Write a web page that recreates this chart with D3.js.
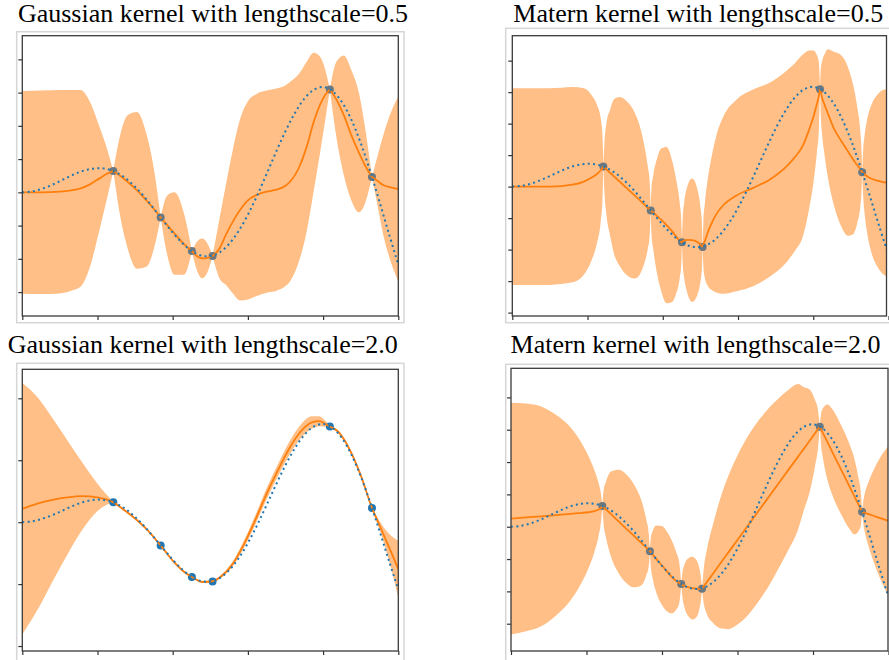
<!DOCTYPE html>
<html>
<head>
<meta charset="utf-8">
<script src="https://d3js.org/d3.v7.min.js"></script>
<style>
  body { margin: 0; background: #ffffff; }
  svg text { font-family: "Liberation Serif", "Times New Roman", serif; }
</style>
</head>
<body>
<script>
var w = 889;
var h = 660;

// training points (same in every panel)
var pointX = [2.42, 3.68, 4.51, 5.06, 8.18, 9.30];
var pointY = [1.60, -1.89, -4.42, -4.79, 7.73, 1.15];

var truthX = [0, 0.25, 0.5, 0.75, 1, 1.25, 1.5, 1.75, 2, 2.25, 2.5, 2.75, 3, 3.25, 3.5, 3.75,
              4, 4.25, 4.5, 4.75, 5, 5.25, 5.5, 5.75, 6, 6.25, 6.5, 6.75, 7, 7.25, 7.5, 7.75,
              8, 8.25, 8.5, 8.75, 9, 9.25, 9.5, 9.75, 10];
var truthY = [0, 0.06, 0.24, 0.51, 0.84, 1.19, 1.50, 1.72, 1.82, 1.75, 1.50, 1.05, 0.42, -0.35, -1.23, -2.14,
              -3.03, -3.80, -4.40, -4.75, -4.79, -4.51, -3.88, -2.93, -1.68, -0.21, 1.40, 3.04, 4.60, 5.97, 7.04, 7.71,
              7.92, 7.61, 6.79, 5.47, 3.71, 1.61, -0.71, -3.11, -5.44];

// Gaussian kernel, lengthscale 0.5 : x, posterior mean, half width of the band
var gauss05X = [0, 0.5, 1.0, 1.3, 1.55, 1.8, 2.05, 2.25, 2.42,
                2.6, 2.8, 3.05, 3.3, 3.5, 3.68,
                3.85, 4.05, 4.3, 4.51,
                4.65, 4.78, 4.92, 5.06,
                5.25, 5.43, 5.6, 5.79, 6.0, 6.23, 6.5, 6.76, 7.0, 7.12, 7.38, 7.56, 7.75, 7.92, 8.05, 8.18,
                8.35, 8.55, 8.75, 8.95, 9.12, 9.30,
                9.45, 9.6, 9.8, 10];
var gauss05Mean = [0, 0, 0.05, 0.15, 0.3, 0.6, 1.05, 1.4, 1.6,
                   1.25, 0.8, 0.15, -0.6, -1.25, -1.89,
                   -2.45, -3.1, -3.9, -4.42,
                   -4.8, -4.97, -4.93, -4.79,
                   -4.2, -3.1, -2.2, -1.33, -0.6, -0.2, 0.05, 0.2, 0.5, 0.8, 2.0, 3.4, 5.3, 6.6, 7.3, 7.73,
                   7.0, 5.8, 4.3, 3.0, 2.0, 1.15,
                   0.85, 0.55, 0.38, 0.25];
var gauss05Half = [7.62, 7.65, 7.65, 7.55, 7.4, 6.2, 3.9, 1.9, 0,
                   3.0, 5.0, 5.9, 5.0, 3.0, 0,
                   2.2, 3.1, 2.3, 0,
                   1.1, 1.5, 1.1, 0,
                   2.3, 3.9, 5.4, 6.8, 7.45, 7.6, 7.6, 7.6, 7.55, 7.5, 7.0, 6.4, 5.2, 3.6, 2.0, 0,
                   2.8, 4.5, 4.9, 4.5, 2.8, 0,
                   1.9, 3.75, 5.6, 6.95];

// Matern kernel, lengthscale 0.5
var matern05X = [0, 1.0, 1.6, 1.9, 2.1, 2.25, 2.35, 2.40, 2.42,
                 2.45, 2.5, 2.6, 2.7, 2.85, 3.05, 3.25, 3.4, 3.5, 3.6, 3.65, 3.68,
                 3.7, 3.75, 3.85, 3.95, 4.1, 4.25, 4.35, 4.45, 4.49, 4.51,
                 4.53, 4.57, 4.65, 4.78, 4.92, 5.0, 5.04, 5.06,
                 5.08, 5.12, 5.2, 5.3, 5.42, 5.6, 5.96, 6.4, 6.84, 7.29, 7.5, 7.73, 7.9, 8.0, 8.1, 8.15, 8.18,
                 8.2, 8.24, 8.3, 8.39, 8.55, 8.75, 8.92, 9.05, 9.17, 9.25, 9.28, 9.30,
                 9.33, 9.36, 9.42, 9.55, 9.7, 9.85, 10];
var matern05Mean = [0, 0, 0.15, 0.4, 0.7, 1.0, 1.3, 1.5, 1.6,
                    1.52, 1.38, 1.1, 0.82, 0.41, -0.14, -0.7, -1.11, -1.39, -1.67, -1.8, -1.89,
                    -1.95, -2.05, -2.35, -2.6, -3.05, -3.55, -3.95, -4.3, -4.4, -4.42,
                    -4.35, -4.27, -4.22, -4.25, -4.4, -4.6, -4.72, -4.79,
                    -4.55, -4.3, -3.6, -2.9, -2.2, -1.5, -0.7, -0.1, 0.55, 1.6, 2.3, 3.3, 4.6, 5.5, 6.6, 7.2, 7.73,
                    7.5, 7.0, 6.5, 5.8, 4.6, 3.6, 2.8, 2.2, 1.7, 1.4, 1.25, 1.15,
                    1.05, 0.98, 0.85, 0.62, 0.47, 0.36, 0.3];
var matern05Half = [7.81, 7.8, 7.75, 7.4, 6.6, 5.5, 4.1, 2.4, 0,
                    2.0, 3.6, 5.0, 6.1, 6.7, 6.9, 6.6, 5.8, 4.8, 3.3, 2.2, 0,
                    1.8, 3.0, 4.6, 5.6, 6.2, 5.6, 4.6, 3.0, 1.8, 0,
                    1.8, 3.0, 4.2, 4.9, 4.2, 3.0, 1.8, 0,
                    1.8, 3.0, 4.3, 5.3, 6.2, 7.0, 7.6, 7.8, 7.7, 7.6, 7.45, 7.2, 6.2, 5.3, 3.8, 2.6, 0,
                    1.8, 3.0, 4.0, 5.1, 6.1, 6.8, 6.7, 6.0, 4.6, 3.0, 1.8, 0,
                    2.0, 3.0, 4.3, 5.9, 6.8, 7.3, 7.45];

// Gaussian kernel, lengthscale 2.0
var gauss2X = [0, 0.4, 0.8, 1.2, 1.6, 2.0, 2.42, 2.7, 3.0, 3.3, 3.68, 4.0, 4.3, 4.51, 4.8, 5.06,
               5.3, 5.6, 5.9, 6.2, 6.5, 6.8, 7.1, 7.4, 7.7, 7.9, 8.05, 8.18, 8.4, 8.7, 9.0, 9.30,
               9.5, 9.7, 9.85, 10];
var gauss2Mean = [1.08, 1.5, 1.8, 2.0, 2.1, 2.0, 1.6, 1.0, 0.3, -0.55, -1.89, -3.1, -4.0, -4.42, -4.83, -4.77,
                  -4.35, -3.35, -1.75, 0.2, 2.3, 4.2, 5.95, 7.3, 8.05, 8.15, 7.95, 7.73, 7.3, 5.9, 3.8, 1.15,
                  -0.25, -1.65, -2.7, -3.8];
var gauss2Half = [10.15, 8.6, 6.6, 4.6, 2.7, 1.1, 0.08, 0.08, 0.08, 0.08, 0.08, 0.08, 0.08, 0.08, 0.08, 0.08,
                  0.12, 0.2, 0.3, 0.38, 0.45, 0.5, 0.55, 0.55, 0.5, 0.4, 0.25, 0.1, 0.12, 0.15, 0.15, 0.12,
                  0.35, 0.9, 1.5, 2.3];

// Matern kernel, lengthscale 2.0
var matern2X = [0, 0.4, 0.8, 1.2, 1.5, 1.8, 2.05, 2.2, 2.32, 2.38, 2.42,
                2.45, 2.52, 2.65, 2.85, 3.05, 3.25, 3.45, 3.58, 3.65, 3.68,
                3.7, 3.75, 3.85, 4.0, 4.1, 4.25, 4.38, 4.46, 4.51,
                4.54, 4.6, 4.7, 4.8, 4.9, 4.98, 5.03, 5.06,
                5.1, 5.2, 5.35, 5.54, 5.75, 5.98, 6.2, 6.45, 6.7, 6.86, 7.1, 7.31, 7.61, 7.75, 7.92, 8.05, 8.13, 8.18,
                8.21, 8.27, 8.38, 8.5, 8.74, 8.95, 9.1, 9.2, 9.27, 9.30,
                9.33, 9.38, 9.45, 9.6, 9.8, 10];
var matern2Mean = [0.63, 0.72, 0.8, 0.9, 0.97, 1.05, 1.12, 1.2, 1.33, 1.45, 1.6,
                   1.52, 1.32, 0.97, 0.41, -0.14, -0.69, -1.24, -1.6, -1.8, -1.89,
                   -1.96, -2.15, -2.5, -3.0, -3.35, -3.85, -4.2, -4.35, -4.42,
                   -4.5, -4.58, -4.68, -4.75, -4.78, -4.8, -4.8, -4.79,
                   -4.63, -4.23, -3.63, -2.86, -2.02, -1.10, -0.22, 0.79, 1.79, 2.43, 3.40, 4.24, 5.44, 6.0, 6.69, 7.21, 7.53, 7.73,
                   7.55, 7.2, 6.56, 5.85, 4.44, 3.21, 2.32, 1.74, 1.33, 1.15,
                   1.12, 1.08, 1.0, 0.85, 0.65, 0.45];
var matern2Half = [8.96, 8.8, 8.5, 7.74, 6.95, 5.75, 4.35, 3.25, 2.05, 1.15, 0,
                   1.2, 2.2, 3.3, 4.0, 4.2, 4.0, 3.3, 2.2, 1.2, 0,
                   1.0, 1.8, 2.6, 3.05, 3.1, 2.85, 2.2, 1.5, 0,
                   0.9, 1.7, 2.25, 2.42, 2.25, 1.7, 0.9, 0,
                   1.2, 2.6, 3.8, 5.0, 5.9, 6.5, 6.85, 7.0, 6.95, 6.85, 6.55, 6.25, 5.6, 4.8, 3.9, 2.6, 1.5, 0,
                   1.1, 2.0, 2.9, 3.3, 3.45, 3.3, 2.9, 2.1, 1.2, 0,
                   0.8, 1.6, 2.3, 3.5, 4.8, 5.8];

// tick values (no labels are shown)
var xTicks = [0, 2, 4, 6, 8, 10];
var yTicks1 = [-7.5, -5, -2.5, 0, 2.5, 5, 7.5, 10];
var yTicks2 = [-10, -7.5, -5, -2.5, 0, 2.5, 5, 7.5, 10];
var yTicks3 = [-10, -5, 0, 5, 10];
var yTicks4 = [-7.5, -5, -2.5, 0, 2.5, 5, 7.5, 10];

var titles = ["Gaussian kernel with lengthscale=0.5", "Matern kernel with lengthscale=0.5",
              "Gaussian kernel with lengthscale=2.0", "Matern kernel with lengthscale=2.0"];

window.onload = function() {

  var svg = d3.select("body")
              .append("svg")
              .attr("width", w)
              .attr("height", h);

  // layout of the four screenshots
  var panels = [
    {title: titles[0], tx: 213, ty: 21.5, frame: [16.7, 31.7, 404, 322.7], box: [22.3, 35.7, 398.3, 316], xEnd: 398.3,
     yDomain: [-9.3, 11.78], yTicks: yTicks1, x: gauss05X, mean: gauss05Mean, half: gauss05Half, dot: "#6b7882"},
    {title: titles[1], tx: 698.3, ty: 21.5, frame: [505.7, 28.3, 895, 322.7], box: [512.3, 35.7, 886.5, 316], xEnd: 888.5,
     yDomain: [-10.27, 11.98], yTicks: yTicks2, x: matern05X, mean: matern05Mean, half: matern05Half, dot: "#6b7882"},
    {title: titles[2], tx: 202.8, ty: 352.5, frame: [16.7, 363.3, 404, 670], box: [22.3, 369.3, 398.3, 651], xEnd: 398.3,
     yDomain: [-10.4, 12.34], yTicks: yTicks3, x: gauss2X, mean: gauss2Mean, half: gauss2Half, dot: "#1f77b4"},
    {title: titles[3], tx: 695.5, ty: 352.5, frame: [505.7, 364.3, 895, 670], box: [511, 368.3, 888, 651], xEnd: 888.5,
     yDomain: [-9.61, 12.25], yTicks: yTicks4, x: matern2X, mean: matern2Mean, half: matern2Half, dot: "#6b7882"}
  ];

  panels.forEach(function(p, i) {
    drawPanel(svg, p, i);
  });
};

// cut the band into pieces at the points where it pinches to zero
function splitSegments(rows) {
  var segs = [];
  var cur = [rows[0]];
  for (var i = 1; i < rows.length; i++) {
    cur.push(rows[i]);
    if (rows[i].s === 0 && i < rows.length - 1) {
      segs.push(cur);
      cur = [rows[i]];
    }
  }
  segs.push(cur);
  return segs;
}

function drawPanel(svg, p, idx) {

  var b = p.box;

  // light grey border of the screenshot
  svg.append("rect")
     .attr("x", p.frame[0])
     .attr("y", p.frame[1])
     .attr("width", p.frame[2] - p.frame[0])
     .attr("height", p.frame[3] - p.frame[1])
     .attr("fill", "none")
     .attr("stroke", "#d6d6d6")
     .attr("stroke-width", 1.5);

  svg.append("text")
     .attr("x", p.tx)
     .attr("y", p.ty)
     .attr("text-anchor", "middle")
     .style("font-size", "26px")
     .attr("fill", "#000")
     .text(p.title);

  var xScale = d3.scaleLinear()
                 .domain([0, 10])
                 .range([b[0], p.xEnd]);

  var yScale = d3.scaleLinear()
                 .domain(p.yDomain)
                 .range([b[3], b[1]]);

  svg.append("clipPath")
     .attr("id", "clip" + idx)
     .append("rect")
     .attr("x", b[0])
     .attr("y", b[1])
     .attr("width", b[2] - b[0])
     .attr("height", b[3] - b[1]);

  var g = svg.append("g").attr("clip-path", "url(#clip" + idx + ")");

  var rows = p.x.map(function(x, i) {
    return {x: x, m: p.mean[i], s: p.half[i]};
  });
  var segs = splitSegments(rows);

  var area = d3.area()
               .x(function(d) { return xScale(d.x); })
               .y0(function(d) { return yScale(d.m - d.s); })
               .y1(function(d) { return yScale(d.m + d.s); })
               .curve(d3.curveMonotoneX);

  var meanLine = d3.line()
                   .x(function(d) { return xScale(d.x); })
                   .y(function(d) { return yScale(d.m); })
                   .curve(d3.curveMonotoneX);

  // confidence band
  segs.forEach(function(seg) {
    g.append("path")
     .datum(seg)
     .attr("fill", "#ffbf86")
     .attr("d", area);
  });

  // training points
  g.selectAll(".pt")
   .data(pointX)
   .enter()
   .append("circle")
   .attr("class", "pt")
   .attr("cx", function(d) { return xScale(d); })
   .attr("cy", function(d, i) { return yScale(pointY[i]); })
   .attr("r", 4)
   .attr("fill", p.dot);

  // posterior mean
  segs.forEach(function(seg) {
    g.append("path")
     .datum(seg)
     .attr("fill", "none")
     .attr("stroke", "#ff7f0e")
     .attr("stroke-width", 1.8)
     .attr("d", meanLine);
  });

  // dotted true function, on top
  var truth = truthX.map(function(x, i) { return [x, truthY[i]]; });
  g.append("path")
   .datum(truth)
   .attr("fill", "none")
   .attr("stroke", "#1f77b4")
   .attr("stroke-width", 2)
   .attr("stroke-dasharray", "2 3.3")
   .attr("d", d3.line()
                .x(function(d) { return xScale(d[0]); })
                .y(function(d) { return yScale(d[1]); })
                .curve(d3.curveCatmullRom));

  // ticks without labels
  var xAxis = d3.axisBottom(xScale).tickValues(xTicks).tickSize(4).tickFormat("");
  var yAxis = d3.axisLeft(yScale).tickValues(p.yTicks).tickSize(4).tickFormat("");

  var xa = svg.append("g")
              .attr("transform", "translate(0," + b[3] + ")")
              .call(xAxis);
  var ya = svg.append("g")
              .attr("transform", "translate(" + b[0] + ",0)")
              .call(yAxis);
  xa.select(".domain").remove();
  ya.select(".domain").remove();
  svg.selectAll(".tick line").attr("stroke", "#333").attr("stroke-width", 1.2);

  // spines
  svg.append("rect")
     .attr("x", b[0])
     .attr("y", b[1])
     .attr("width", b[2] - b[0])
     .attr("height", b[3] - b[1])
     .attr("fill", "none")
     .attr("stroke", "#3a3a3a")
     .attr("stroke-width", 1.3);
}
</script>
</body>
</html>
